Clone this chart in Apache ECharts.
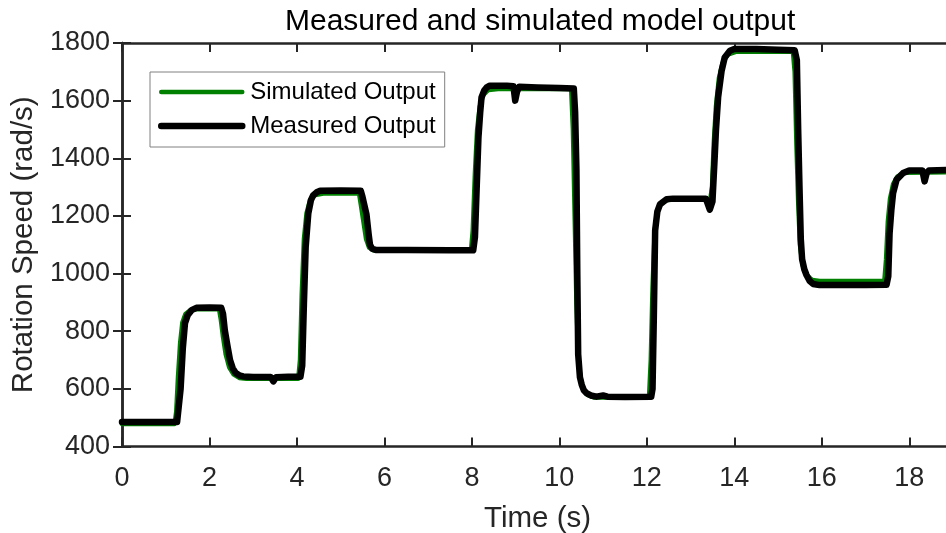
<!DOCTYPE html>
<html>
<head>
<meta charset="utf-8">
<script src="https://cdn.jsdelivr.net/npm/echarts@6/dist/echarts.min.js"></script>
<style>
  html, body { margin: 0; padding: 0; background: #fff; }
  #chart { width: 946px; height: 533px; }
</style>
</head>
<body>
<div id="chart"></div>
<script>
// Measured rotation speed (rad/s) against time (s)
const measuredTime = [
  0, 1.26, 1.30, 1.34, 1.39, 1.44, 1.50, 1.59, 1.70, 2.00, 2.27, 2.31, 2.35, 2.41, 2.47, 2.53, 2.60, 2.68, 2.77,
  3.00, 3.40, 3.46, 3.52, 3.80, 4.08, 4.12, 4.16, 4.20, 4.26, 4.32, 4.37, 4.45, 4.53, 5.00, 5.46,
  5.50, 5.53, 5.59, 5.64, 5.67, 5.72, 5.80, 6.50, 7.50, 8.03,
  8.07, 8.11, 8.15, 8.19, 8.22, 8.28, 8.34, 8.41, 8.80, 8.95, 8.99, 9.03, 9.08, 9.50, 10.00, 10.33,
  10.36, 10.39, 10.41, 10.43, 10.47, 10.51, 10.56, 10.62, 10.72, 10.85, 11.00, 11.10, 11.50, 12.10,
  12.13, 12.16, 12.19, 12.24, 12.30, 12.45, 12.60, 13.35, 13.44, 13.50, 13.55, 13.58, 13.63, 13.71, 13.78, 13.90,
  14.00, 14.50, 15.00, 15.38, 15.43, 15.46, 15.49, 15.52, 15.55, 15.60, 15.65, 15.72, 15.80, 15.95, 16.50, 17.00, 17.48,
  17.52, 17.55, 17.59, 17.63, 17.71, 17.86, 18.00, 18.30, 18.35, 18.40, 18.45, 19.00
];
const measuredSpeed = [
  485, 485, 490, 600, 740, 828, 855, 873, 881, 882, 881, 860, 804, 750, 700, 672, 655, 647, 643,
  641, 641, 626, 640, 642, 642, 680, 900, 1093, 1209, 1255, 1271, 1282, 1287, 1288, 1287,
  1265, 1245, 1205, 1135, 1100, 1086, 1082, 1082, 1081, 1081,
  1127, 1300, 1473, 1560, 1611, 1635, 1646, 1652, 1652, 1650, 1600, 1630, 1648, 1646, 1644, 1642,
  1560, 1360, 1000, 720, 640, 615, 595, 585, 577, 573, 577, 573, 572, 573,
  600, 850, 1150, 1215, 1240, 1258, 1260, 1260, 1222, 1250, 1400, 1497, 1612, 1704, 1750, 1773,
  1779, 1779, 1777, 1775, 1740, 1500, 1300, 1120, 1050, 1015, 995, 975, 964, 960, 960, 960, 961,
  990, 1140, 1220, 1279, 1326, 1349, 1358, 1358, 1320, 1350, 1358, 1360
];

// Simulated model output (rad/s) against time (s)
const simulatedTime = [
  0, 1.20, 1.24, 1.28, 1.33, 1.38, 1.45, 1.55, 1.70, 2.22, 2.26, 2.31, 2.37, 2.45, 2.55, 2.68, 2.85,
  4.03, 4.07, 4.11, 4.16, 4.22, 4.30, 4.42, 4.60, 5.42, 5.46, 5.52, 5.58, 5.65, 5.75,
  7.98, 8.02, 8.07, 8.12, 8.18, 8.26, 8.38, 8.60, 10.27, 10.31, 10.35, 10.39, 10.43, 10.48, 10.55, 10.65, 10.80,
  12.05, 12.09, 12.13, 12.18, 12.24, 12.33, 12.50, 13.45, 13.49, 13.53, 13.58, 13.65, 13.73, 13.85, 14.05,
  15.34, 15.38, 15.42, 15.46, 15.50, 15.56, 15.65, 15.78, 15.95,
  17.43, 17.47, 17.51, 17.56, 17.63, 17.73, 17.90, 19.00
];
const simulatedSpeed = [
  478, 478, 520, 640, 760, 830, 860, 872, 876, 876, 840, 780, 720, 675, 650, 638, 635,
  635, 700, 930, 1120, 1210, 1255, 1272, 1278, 1278, 1240, 1180, 1120, 1090, 1081,
  1081, 1150, 1350, 1500, 1580, 1620, 1637, 1640, 1640, 1500, 1200, 900, 720, 640, 600, 578, 570,
  570, 700, 950, 1150, 1215, 1245, 1256, 1258, 1300, 1450, 1580, 1680, 1730, 1760, 1770,
  1770, 1700, 1450, 1250, 1100, 1030, 995, 978, 974,
  974, 1050, 1180, 1260, 1310, 1337, 1350, 1352
];

const xTicks = { min: 0, max: 19, interval: 2 };
const yTicks = { min: 400, max: 1800, interval: 200 };

function pairs(ts, vs) {
  return ts.map((t, i) => [t, vs[i]]);
}

const axisColor = '#262626';
const fontFamily = '"Liberation Sans", Arial, Helvetica, sans-serif';

const chart = echarts.init(document.getElementById('chart'), null, { renderer: 'canvas' });

const boxAxisLine = { show: true, lineStyle: { color: axisColor, width: 2.5 } };
const boxTick = { show: true, inside: true, length: 9, lineStyle: { color: axisColor, width: 2 } };

chart.setOption({
  animation: false,
  backgroundColor: '#ffffff',
  textStyle: { fontFamily: fontFamily },
  title: {
    text: 'Measured and simulated model output',
    left: 285,
    top: 7,
    padding: 0,
    textStyle: { fontSize: 30, fontWeight: 'normal', color: '#000', fontFamily: fontFamily }
  },
  grid: {
    left: 122, right: -7, top: 43, bottom: 86.5,
    containLabel: false, outerBoundsMode: 'none'
  },
  legend: {
    orient: 'vertical',
    left: 150,
    top: 72,
    padding: [8, 9, 9, 8],
    itemGap: 10,
    itemWidth: 81,
    itemHeight: 14,
    backgroundColor: '#ffffff',
    borderColor: '#808080',
    borderWidth: 1,
    borderRadius: 0,
    itemStyle: { opacity: 0 },
    textStyle: { fontSize: 24, lineHeight: 24, color: '#000', fontFamily: fontFamily, padding: [0, 0, 0, 3] },
    data: [
      { name: 'Simulated Output', lineStyle: { width: 4.5, color: '#008000' } },
      { name: 'Measured Output', lineStyle: { width: 6.5, color: '#000000' } }
    ]
  },
  xAxis: [
    {
      type: 'value', position: 'bottom',
      min: xTicks.min, max: xTicks.max, interval: xTicks.interval,
      name: 'Time (s)', nameLocation: 'middle', nameGap: 57,
      nameTextStyle: { fontSize: 29.5, color: axisColor, fontFamily: fontFamily },
      axisLine: boxAxisLine, axisTick: boxTick,
      axisLabel: { fontSize: 27, color: axisColor, margin: 19, fontFamily: fontFamily,
        showMaxLabel: false, formatter: v => String(v) },
      splitLine: { show: false }
    },
    {
      type: 'value', position: 'top',
      min: xTicks.min, max: xTicks.max, interval: xTicks.interval,
      axisLine: boxAxisLine, axisTick: boxTick,
      axisLabel: { show: false }, splitLine: { show: false }
    }
  ],
  yAxis: [
    {
      type: 'value', position: 'left',
      min: yTicks.min, max: yTicks.max, interval: yTicks.interval,
      name: 'Rotation Speed (rad/s)', nameLocation: 'middle', nameGap: 78,
      nameTextStyle: { fontSize: 29.5, color: axisColor, fontFamily: fontFamily },
      axisLine: boxAxisLine, axisTick: boxTick,
      axisLabel: { fontSize: 27, color: axisColor, margin: 12, fontFamily: fontFamily,
        formatter: v => String(v) },
      splitLine: { show: false }
    },
    {
      type: 'value', position: 'right',
      min: yTicks.min, max: yTicks.max, interval: yTicks.interval,
      axisLine: boxAxisLine, axisTick: boxTick,
      axisLabel: { show: false }, splitLine: { show: false }
    }
  ],
  series: [
    {
      name: 'Simulated Output', type: 'line',
      xAxisIndex: 0, yAxisIndex: 0,
      data: pairs(simulatedTime, simulatedSpeed),
      symbol: 'none', showSymbol: false,
      lineStyle: { color: '#008000', width: 4.5, join: 'round', cap: 'round' },
      itemStyle: { color: '#008000' }
    },
    {
      name: 'Measured Output', type: 'line',
      xAxisIndex: 0, yAxisIndex: 0,
      data: pairs(measuredTime, measuredSpeed),
      symbol: 'none', showSymbol: false,
      lineStyle: { color: '#000000', width: 6.5, join: 'round', cap: 'round' },
      itemStyle: { color: '#000000' }
    }
  ]
});
</script>
</body>
</html>
